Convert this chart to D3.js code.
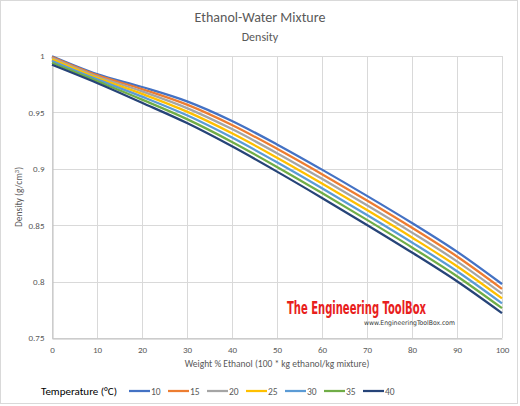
<!DOCTYPE html>
<html>
<head>
<meta charset="utf-8">
<script src="https://cdn.jsdelivr.net/npm/d3@7"></script>
<style>
  body { margin: 0; background: #fff; }
  svg text { font-family: Carlito, Calibri, "Liberation Sans", "DejaVu Sans", sans-serif; }
</style>
</head>
<body>
<div id="chart"></div>
<script>
// weight % ethanol
var weightPct = [0, 10, 20, 30, 40, 50, 60, 70, 80, 90, 100];
var temperatures = [10, 15, 20, 25, 30, 35, 40];

// density (g/cm3) per temperature
var d10 = [0.99973, 0.98393, 0.97252, 0.95977, 0.94238, 0.92162, 0.89927, 0.87602, 0.85197, 0.82654, 0.79784];
var d15 = [0.99913, 0.98304, 0.97068, 0.95686, 0.93882, 0.91776, 0.89523, 0.87187, 0.84772, 0.82227, 0.79360];
var d20 = [0.99820, 0.98187, 0.96864, 0.95382, 0.93518, 0.91384, 0.89113, 0.86766, 0.84344, 0.81797, 0.78934];
var d25 = [0.99705, 0.98063, 0.96639, 0.95067, 0.93148, 0.90985, 0.88699, 0.86340, 0.83911, 0.81362, 0.78506];
var d30 = [0.99565, 0.97924, 0.96395, 0.94741, 0.92770, 0.90580, 0.88278, 0.85908, 0.83473, 0.80922, 0.78075];
var d35 = [0.99403, 0.97772, 0.96134, 0.94403, 0.92385, 0.90168, 0.87851, 0.85470, 0.83029, 0.80478, 0.77641];
var d40 = [0.99222, 0.97608, 0.95856, 0.94055, 0.91992, 0.89750, 0.87417, 0.85025, 0.82578, 0.80028, 0.77203];

var xTicks = [0, 10, 20, 30, 40, 50, 60, 70, 80, 90, 100];
var yTicks = [0.75, 0.8, 0.85, 0.9, 0.95, 1];

var seriesData = [d10, d15, d20, d25, d30, d35, d40];
var colors = ["#4472C4", "#ED7D31", "#A5A5A5", "#FFC000", "#5B9BD5", "#70AD47", "#264478"];

var width = 520, height = 406;
var svg = d3.select("#chart").append("svg").attr("width", width).attr("height", height);

// outer border
svg.append("rect").attr("x", 0.5).attr("y", 0.5).attr("width", 517).attr("height", 403)
    .attr("fill", "#fff").attr("stroke", "#d9d9d9");

var x = d3.scaleLinear().domain([0, 100]).range([52, 502]);
var y = d3.scaleLinear().domain([0.75, 1]).range([338, 56]);

// gridlines
svg.append("g").selectAll("line.v").data(xTicks).enter().append("line")
    .attr("x1", function(d) { return Math.round(x(d)) + 0.5; })
    .attr("x2", function(d) { return Math.round(x(d)) + 0.5; })
    .attr("y1", y(1)).attr("y2", y(0.75))
    .attr("stroke", "#d9d9d9");
svg.append("g").selectAll("line.h").data(yTicks).enter().append("line")
    .attr("x1", x(0)).attr("x2", x(100))
    .attr("y1", function(d) { return Math.round(y(d)) + 0.5; })
    .attr("y2", function(d) { return Math.round(y(d)) + 0.5; })
    .attr("stroke", "#d9d9d9");

// axes
var xAxis = svg.append("g").attr("transform", "translate(0," + (Math.round(y(0.75)) + 0.5) + ")")
    .call(d3.axisBottom(x).tickValues(xTicks).tickSize(0).tickPadding(8));
var yAxis = svg.append("g").attr("transform", "translate(" + (Math.round(x(0)) + 0.5) + ",0)")
    .call(d3.axisLeft(y).tickValues(yTicks).tickSize(0).tickPadding(8).tickFormat(d3.format("")));
[xAxis, yAxis].forEach(function(a) {
  a.select(".domain").attr("stroke", "#bfbfbf");
  a.selectAll("text").attr("fill", "#595959").style("font-size", "9px");
});

// lines
var line = d3.line()
    .x(function(d, i) { return x(weightPct[i]); })
    .y(function(d) { return y(d); })
    .curve(d3.curveMonotoneX);

svg.append("g").selectAll("path").data(seriesData).enter().append("path")
    .attr("d", line)
    .attr("fill", "none")
    .attr("stroke", function(d, i) { return colors[i]; })
    .attr("stroke-width", 2.25);

// titles
svg.append("text").attr("x", 260).attr("y", 22).attr("text-anchor", "middle")
    .attr("fill", "#595959").style("font-size", "14px").text("Ethanol-Water Mixture");
svg.append("text").attr("x", 260).attr("y", 41).attr("text-anchor", "middle")
    .attr("fill", "#595959").style("font-size", "12px").text("Density");

svg.append("text").attr("x", 277).attr("y", 367).attr("text-anchor", "middle")
    .attr("fill", "#595959").style("font-size", "9.5px")
    .text("Weight % Ethanol  (100 * kg ethanol/kg mixture)");

var yt = svg.append("text").attr("transform", "translate(22,197) rotate(-90)")
    .attr("text-anchor", "middle").attr("fill", "#595959").style("font-size", "9.5px");
yt.append("tspan").text("Density (g/cm");
yt.append("tspan").attr("dy", -3).style("font-size", "6.5px").text("3");
yt.append("tspan").attr("dy", 3).text(")");

// legend
svg.append("text").attr("x", 41).attr("y", 395).attr("fill", "#000").style("font-size", "11px")
    .text("Temperature (\u00B0C)");
var lg = svg.append("g").selectAll("g").data(temperatures).enter().append("g")
    .attr("transform", function(d, i) { return "translate(" + (129 + i * 39) + ",391)"; });
lg.append("line").attr("x1", 0).attr("x2", 21).attr("y1", 0).attr("y2", 0)
    .attr("stroke", function(d, i) { return colors[i]; }).attr("stroke-width", 2.25);
lg.append("text").attr("x", 22).attr("y", 3.5).attr("fill", "#595959").style("font-size", "9.5px")
    .text(function(d) { return d; });

// watermark
svg.append("text").attr("x", 287).attr("y", 314).attr("textLength", 139).attr("lengthAdjust", "spacingAndGlyphs")
    .attr("fill", "#e8201c").style("font-family", "'DejaVu Sans Condensed', 'Liberation Sans Narrow', sans-serif")
    .style("font-weight", "bold").style("font-size", "17px").text("The Engineering ToolBox");
svg.append("text").attr("x", 364).attr("y", 325).attr("textLength", 91).attr("lengthAdjust", "spacingAndGlyphs")
    .attr("fill", "#333").style("font-family", "'DejaVu Sans', sans-serif")
    .style("font-size", "6.5px").text("www.EngineeringToolBox.com");
</script>
</body>
</html>
